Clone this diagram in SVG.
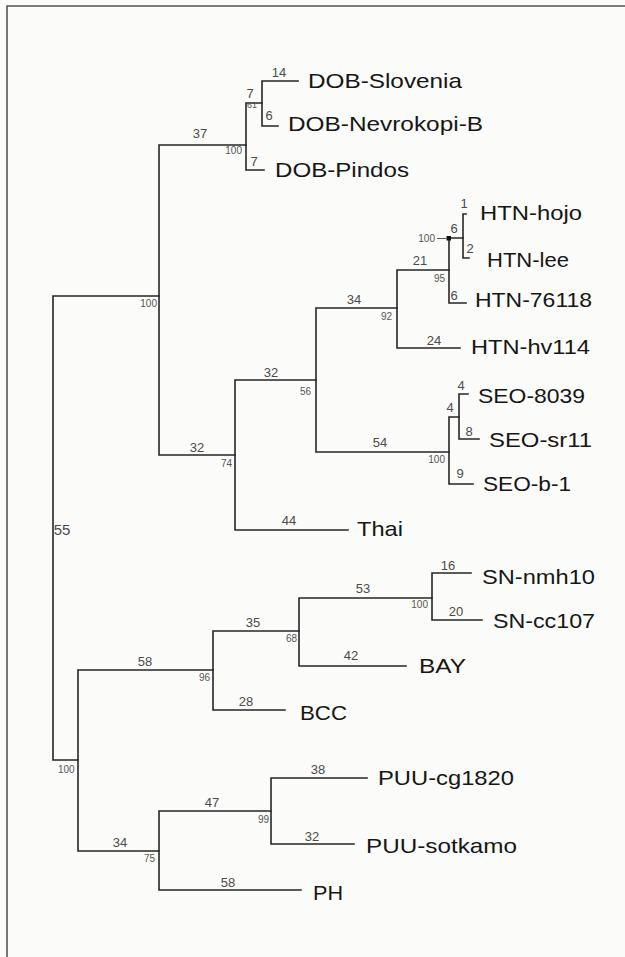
<svg xmlns="http://www.w3.org/2000/svg" width="625" height="957" viewBox="0 0 625 957">
<style>
.bg{fill:#fbfbfa}
.frame{stroke:#555;stroke-width:1.6;fill:none}
.br{stroke:#262626;stroke-width:1.6;fill:none;stroke-linecap:square}
.leaf{font-family:"Liberation Sans",Arial,sans-serif;font-size:21px;fill:#161616}
.len{font-family:"Liberation Sans",Arial,sans-serif;font-size:13px;fill:#4a4a4a;text-anchor:middle}
.bs{font-family:"Liberation Sans",Arial,sans-serif;font-size:10px;fill:#555;text-anchor:end}
.bsl{font-family:"Liberation Sans",Arial,sans-serif;font-size:10px;fill:#555}
</style>
<rect class="bg" x="0" y="0" width="625" height="957"/>
<path class="frame" d="M7,957 V6 H625"/>

<g id="connectors">
<path class="br" d="M53,296 V760 M53,296 H159 M53,760 H78"/>
<path class="br" d="M159,145 V455 M159,145 H246 M159,455 H235"/>
<path class="br" d="M246,103 V170 M246,103 H262 M246,170 H264"/>
<path class="br" d="M262,81 V126 M262,81 H298 M262,126 H278"/>
<path class="br" d="M235,380 V530 M235,380 H316 M235,530 H348"/>
<path class="br" d="M316,308 V452 M316,308 H397 M316,452 H449"/>
<path class="br" d="M397,270 V348 M397,270 H449 M397,348 H460"/>
<path class="br" d="M449,238 V303 M449,238 H463 M449,303 H466"/>
<path class="br" d="M463,214 V258 M463,214 H466 M463,258 H469"/>
<path class="br" d="M449,417 V484 M449,417 H459 M449,484 H473"/>
<path class="br" d="M459,394 V439 M459,394 H468 M459,439 H479"/>
<path class="br" d="M78,670 V851 M78,670 H213 M78,851 H159"/>
<path class="br" d="M213,631 V710 M213,631 H299 M213,710 H285"/>
<path class="br" d="M299,598 V666 M299,598 H432 M299,666 H406"/>
<path class="br" d="M432,573 V620 M432,573 H471 M432,620 H482"/>
<path class="br" d="M159,811 V890 M159,811 H271 M159,890 H301"/>
<path class="br" d="M271,778 V844 M271,778 H367 M271,844 H354"/>
<line x1="437" y1="238.5" x2="446" y2="238.5" stroke="#555" stroke-width="1"/>
<rect x="446.5" y="236" width="4.5" height="4.5" fill="#111"/>
</g>

<g id="branch-lengths">
<text class="len" x="62" y="535" style="font-size:15px">55</text>
<text class="len" x="200" y="138">37</text>
<text class="len" x="250" y="98">7</text>
<text class="len" x="279" y="77">14</text>
<text class="len" x="269" y="120">6</text>
<text class="len" x="254" y="166">7</text>
<text class="len" x="197" y="452">32</text>
<text class="len" x="271" y="377">32</text>
<text class="len" x="289" y="525">44</text>
<text class="len" x="354" y="304">34</text>
<text class="len" x="380" y="447">54</text>
<text class="len" x="420" y="265">21</text>
<text class="len" x="434" y="345">24</text>
<text class="len" x="454" y="233">6</text>
<text class="len" x="454" y="300">6</text>
<text class="len" x="464" y="208">1</text>
<text class="len" x="470" y="253">2</text>
<text class="len" x="450" y="412">4</text>
<text class="len" x="460" y="478">9</text>
<text class="len" x="461" y="390">4</text>
<text class="len" x="469" y="436">8</text>
<text class="len" x="145" y="666">58</text>
<text class="len" x="120" y="847">34</text>
<text class="len" x="253" y="627">35</text>
<text class="len" x="246" y="706">28</text>
<text class="len" x="363" y="593">53</text>
<text class="len" x="351" y="660">42</text>
<text class="len" x="448" y="570">16</text>
<text class="len" x="456" y="616">20</text>
<text class="len" x="212" y="807">47</text>
<text class="len" x="228" y="887">58</text>
<text class="len" x="318" y="774">38</text>
<text class="len" x="312" y="841">32</text>
</g>

<g id="bootstrap">
<text class="bs" x="157" y="307">100</text>
<text class="bsl" x="58" y="773">100</text>
<text class="bs" x="242" y="154">100</text>
<text class="bsl" x="247" y="108" style="font-size:9px">61</text>
<text class="bs" x="232" y="467">74</text>
<text class="bs" x="311" y="395">56</text>
<text class="bs" x="392" y="320">92</text>
<text class="bs" x="445" y="463">100</text>
<text class="bs" x="445" y="282">95</text>
<text class="bs" x="435" y="242">100</text>
<text class="bs" x="210" y="681">96</text>
<text class="bs" x="155" y="862">75</text>
<text class="bs" x="297" y="642">68</text>
<text class="bs" x="428" y="608">100</text>
<text class="bs" x="269" y="823">99</text>
</g>

<g id="node-DOB-Slovenia"><text class="leaf" x="308" y="88" textLength="154" lengthAdjust="spacingAndGlyphs">DOB-Slovenia</text></g>
<g id="node-DOB-Nevrokopi-B"><text class="leaf" x="288" y="131" textLength="195" lengthAdjust="spacingAndGlyphs">DOB-Nevrokopi-B</text></g>
<g id="node-DOB-Pindos"><text class="leaf" x="275" y="177" textLength="134" lengthAdjust="spacingAndGlyphs">DOB-Pindos</text></g>
<g id="node-HTN-hojo"><text class="leaf" x="480" y="220" textLength="102" lengthAdjust="spacingAndGlyphs">HTN-hojo</text></g>
<g id="node-HTN-lee"><text class="leaf" x="487" y="267" textLength="82" lengthAdjust="spacingAndGlyphs">HTN-lee</text></g>
<g id="node-HTN-76118"><text class="leaf" x="475" y="307" textLength="117" lengthAdjust="spacingAndGlyphs">HTN-76118</text></g>
<g id="node-HTN-hv114"><text class="leaf" x="471" y="354" textLength="119" lengthAdjust="spacingAndGlyphs">HTN-hv114</text></g>
<g id="node-SEO-8039"><text class="leaf" x="478" y="403" textLength="107" lengthAdjust="spacingAndGlyphs">SEO-8039</text></g>
<g id="node-SEO-sr11"><text class="leaf" x="489" y="447" textLength="103" lengthAdjust="spacingAndGlyphs">SEO-sr11</text></g>
<g id="node-SEO-b-1"><text class="leaf" x="483" y="491" textLength="88" lengthAdjust="spacingAndGlyphs">SEO-b-1</text></g>
<g id="node-Thai"><text class="leaf" x="357" y="536" textLength="46" lengthAdjust="spacingAndGlyphs">Thai</text></g>
<g id="node-SN-nmh10"><text class="leaf" x="482" y="584" textLength="113" lengthAdjust="spacingAndGlyphs">SN-nmh10</text></g>
<g id="node-SN-cc107"><text class="leaf" x="493" y="628" textLength="102" lengthAdjust="spacingAndGlyphs">SN-cc107</text></g>
<g id="node-BAY"><text class="leaf" x="419" y="673" textLength="47" lengthAdjust="spacingAndGlyphs">BAY</text></g>
<g id="node-BCC"><text class="leaf" x="300" y="720" textLength="47" lengthAdjust="spacingAndGlyphs">BCC</text></g>
<g id="node-PUU-cg1820"><text class="leaf" x="378" y="785" textLength="136" lengthAdjust="spacingAndGlyphs">PUU-cg1820</text></g>
<g id="node-PUU-sotkamo"><text class="leaf" x="366" y="853" textLength="151" lengthAdjust="spacingAndGlyphs">PUU-sotkamo</text></g>
<g id="node-PH"><text class="leaf" x="313" y="900" textLength="30" lengthAdjust="spacingAndGlyphs">PH</text></g>
</svg>
